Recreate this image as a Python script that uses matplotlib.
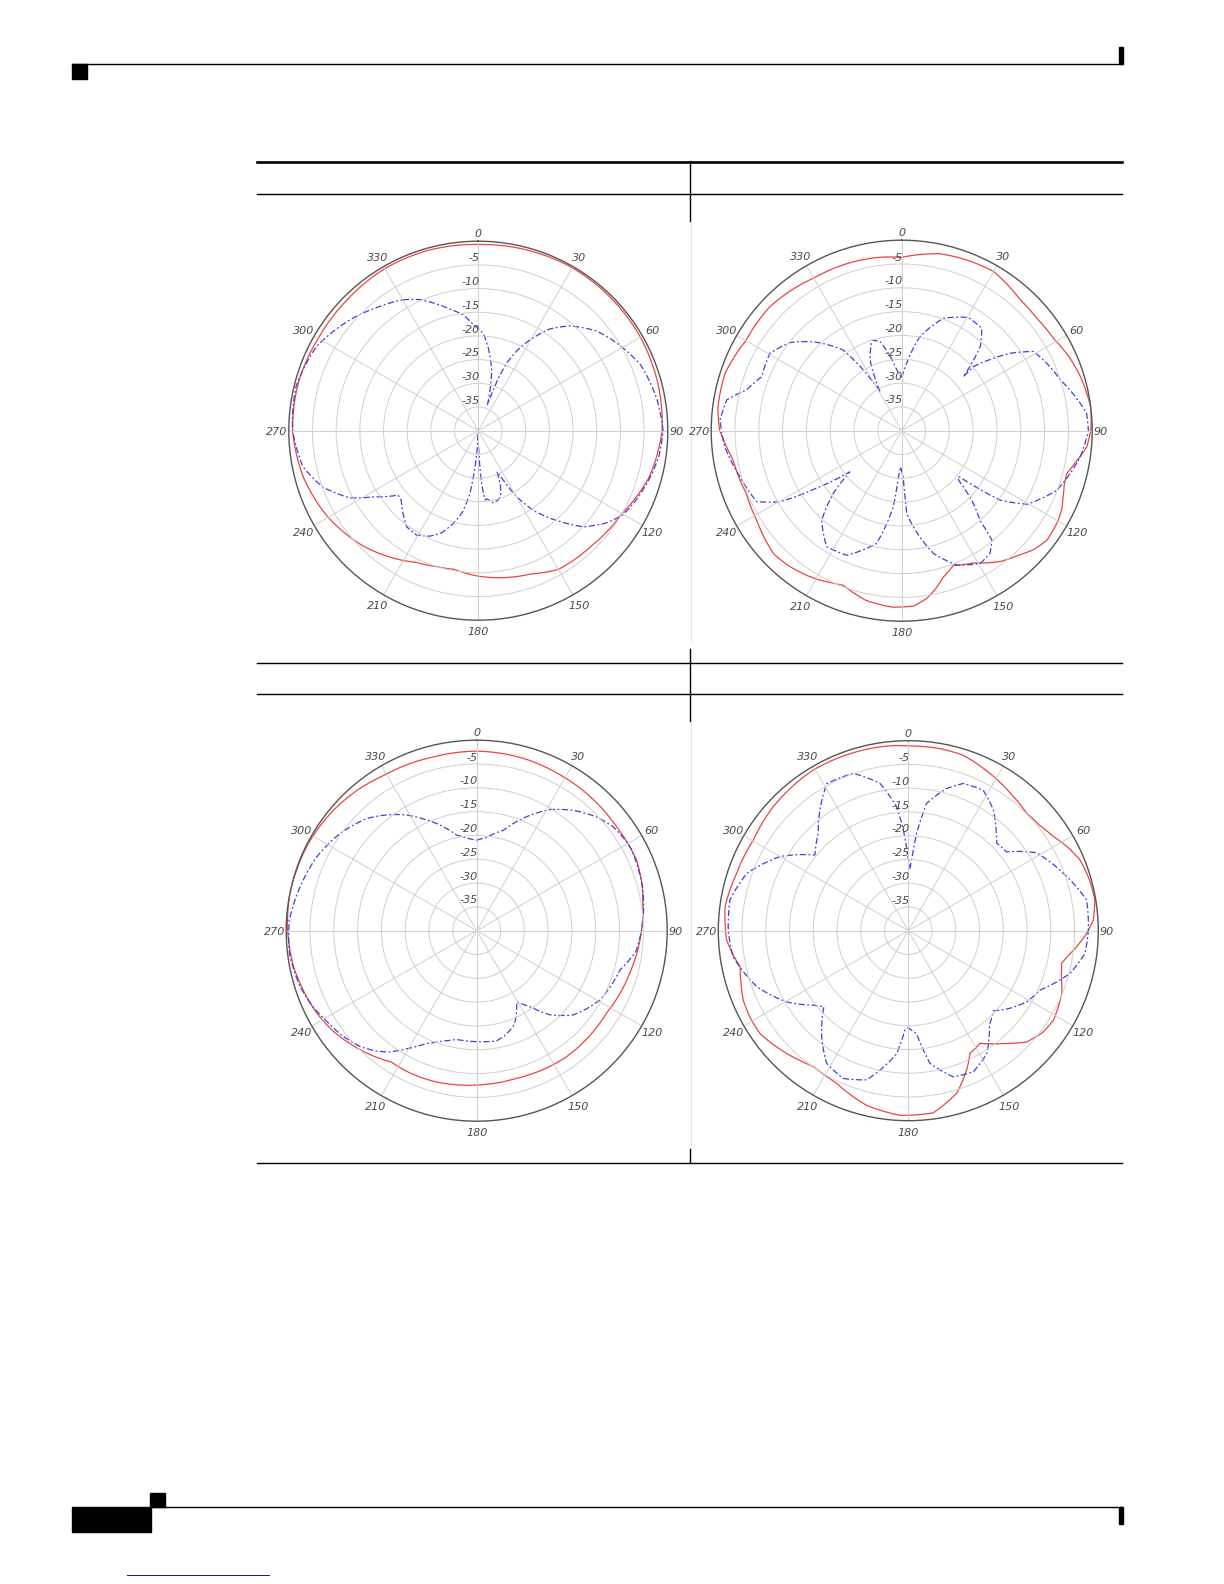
import numpy as np
import matplotlib
matplotlib.use("Agg")
import matplotlib.pyplot as plt
from matplotlib.patches import Rectangle, PathPatch
from matplotlib.path import Path

W, H = 1224, 1584

# ---- antenna patterns, (angle deg, level dB) ----
p1_red_ang = [0, 15, 30, 45, 60, 75, 90, 105, 120, 135, 150, 160, 170, 180, 185, 190, 197, 205, 212,
              225, 240, 255, 270, 285, 300, 315, 330, 345]
p1_red_db = [-0.7, -0.5, -0.3, -0.4, -0.5, -0.8, -1.2, -2.6, -5.0, -5.9, -6.2, -7.8, -8.5, -9.3, -9.8,
             -10.3, -10.0, -9.3, -8.0, -5.6, -3.4, -1.8, -0.8, -0.7, -1.0, -0.9, -0.5, -0.5]

p1_blue_ang = [330, 336, 343, 348, 352.6, 357, 362.9, 367, 372.4, 376, 379.3, 381, 382.8, 386, 389.7,
               395, 401.2, 410, 417.7, 428, 440.2, 450, 458, 465, 473, 480.3, 486, 492.4, 498, 505.3,
               510, 513.1, 515.5, 518, 521, 523.9, 528, 532.4, 534.5, 536.4, 539, 541, 544, 547.6, 551,
               555.1, 560, 564.7, 570.6, 576.7, 582, 587.9, 591.2, 597.8, 602.4, 610, 618.4, 630, 643.6,
               657.5, 670.8, 680, 690]
p1_blue_db = [-8.1, -9.7, -12.3, -14.0, -15.3, -17.5, -19.4, -22.5, -26.9, -31.0, -34.2, -28.0, -24.5,
              -21.0, -17.9, -13.8, -10.6, -7.3, -5.4, -3.0, -1.7, -1.0, -1.5, -2.4, -3.5, -4.7, -6.8,
              -9.9, -14.2, -19.5, -24.0, -28.3, -30.5, -27.5, -25.5, -24.8, -24.4, -25.5, -25.3, -28.9,
              -37.0, -40.0, -35.2, -26.6, -22.5, -19.7, -17.0, -15.5, -14.4, -14.7, -16.3, -18.1, -18.3,
              -13.8, -9.4, -5.1, -2.2, -0.8, -0.4, -1.5, -4.2, -6.2, -8.1]

p2_red_ang = [0, 12, 22, 30, 42, 50, 58.7, 66, 73, 83, 90, 95, 100, 104.5, 108, 111, 116, 120, 127, 132,
              137, 143, 151.5, 159, 164, 168, 171.5, 176, 183, 192, 200.7, 205, 209, 213, 220, 226, 232,
              238, 248, 260, 266, 270, 277, 288, 300, 313, 322, 330, 344, 353]
p2_red_db = [-3.6, -2.0, -1.6, -1.4, -2.9, -3.1, -2.7, -1.6, -0.8, 0.0, -0.3, -1.0, -2.8, -4.2, -4.1,
             -3.6, -2.6, -2.1, -1.8, -2.7, -4.2, -5.6, -8.4, -9.7, -8.1, -6.0, -4.4, -3.1, -2.9, -3.6,
             -5.3, -4.8, -4.2, -3.7, -3.0, -2.7, -3.4, -4.2, -4.8, -4.1, -2.8, -1.8, -1.1, -1.0, -2.2,
             -2.0, -2.5, -3.0, -3.1, -3.3]

p2_blue_ang = [331, 335.9, 341.7, 346.3, 355.3, 360, 364.2, 371, 380.4, 390.5, 398, 403, 408.8, 408.2,
               414.5, 419, 425.1, 432.3, 444.6, 450, 458.3, 464.2, 471, 480.4, 485.2, 488.7, 491, 495,
               498.8, 500.5, 504.2, 509.4, 517.7, 525.5, 533.1, 536.5, 538, 541.6, 544.1, 546.3, 552.5,
               563.9, 572.9, 581.8, 587.5, 591.6, 595.6, 599.7, 603.9, 614.1, 624.8, 633.4, 640, 644.7,
               651.1, 660.4, 668.2, 675.2, 684.1, 687.7, 691]
p2_blue_db = [-30.6, -23.7, -20.0, -20.7, -27.2, -29.0, -25.8, -19.9, -14.8, -12.4, -12.7, -15.8, -22.8,
              -19.8, -12.0, -7.7, -6.4, -5.0, -1.0, -0.8, -2.1, -3.5, -5.1, -9.5, -14.7, -24.7, -24.2,
              -19.0, -15.1, -10.2, -8.3, -7.6, -9.5, -13.4, -19.7, -22.6, -30.3, -32.4, -30.3, -24.0,
              -15.8, -11.4, -11.0, -14.8, -20.5, -26.1, -19.2, -10.4, -6.1, -4.7, -2.7, -1.8, -2.7, -6.3,
              -8.5, -7.9, -10.1, -13.7, -19.1, -24.9, -30.6]

p3_red_ang = [0, 15, 29, 40, 53, 66, 75, 80, 90, 105, 122, 135, 145, 165, 180, 196, 205, 213, 220, 228,
              235, 243, 259, 270, 281, 298, 310, 320, 329, 346]
p3_red_db = [-2.3, -2.5, -2.9, -3.1, -3.4, -3.3, -4.0, -4.6, -5.4, -6.6, -7.7, -7.6, -7.5, -7.9, -7.6,
             -7.1, -7.0, -7.1, -5.8, -4.4, -3.2, -2.2, -0.8, -0.3, 0.0, -0.2, -0.7, -1.3, -2.0, -2.4]

p3_blue_ang = [0, 6.1, 14.8, 24.8, 31.1, 38.7, 46.5, 52.7, 58, 62, 68, 75.2, 82, 90, 97.5, 105.3, 112,
               119.3, 125, 131.1, 139, 144.9, 150.6, 156.4, 159.1, 165, 169.7, 180, 190.4, 197, 204, 210,
               215.6, 220, 225.2, 232, 238.8, 245, 252.4, 263.1, 273.3, 284, 294.8, 305.5, 315.6, 323.3,
               328.8, 334, 339.6, 348.2, 355]
p3_blue_db = [-21.0, -20.3, -18.2, -13.3, -10.3, -7.6, -5.3, -4.0, -3.5, -3.3, -3.6, -4.0, -4.6, -5.4,
              -6.3, -8.8, -9.5, -10.3, -11.6, -13.1, -16.6, -20.5, -22.9, -19.6, -18.5, -17.2, -16.5,
              -16.7, -16.8, -15.8, -14.1, -11.5, -8.7, -7.0, -5.5, -4.2, -3.2, -2.1, -1.1, -0.4, -0.6,
              -1.8, -3.0, -4.8, -7.0, -9.6, -11.6, -13.8, -16.0, -19.5, -20.6]

p4_red_ang = [0, 10, 17.4, 28.9, 37, 45.2, 51, 57, 62, 67.6, 74, 80.7, 86.7, 91, 95.4, 99, 102, 106,
              112.2, 121.6, 127, 133.2, 140, 147.5, 153.3, 157.3, 163.4, 172.2, 182.6, 193.4, 200, 205.1,
              210, 214.9, 220, 224.8, 235.3, 241, 247.2, 252, 257.9, 262, 267.1, 277.5, 288.5, 300.3,
              312.6, 329.4, 346, 355.4]
p4_red_db = [-1.1, -1.1, -1.3, -2.9, -4.0, -4.9, -4.6, -3.6, -2.2, -0.9, -0.4, -0.2, -1.0, -2.5, -4.4,
             -6.0, -7.0, -6.5, -5.1, -4.1, -4.5, -5.8, -9.0, -11.9, -11.1, -8.2, -4.3, -1.3, -1.1, -2.2,
             -3.5, -4.5, -4.9, -5.1, -4.4, -3.6, -2.0, -2.0, -2.3, -3.0, -3.8, -2.8, -1.7, -1.1, -1.9,
             -2.2, -1.4, -0.7, -0.8, -0.9]

p4_blue_ang = [357.2, 359.5, 361.5, 363, 364.9, 368.2, 375.1, 380.5, 388.1, 395.2, 400.1, 405.3, 411.2,
               418.7, 429.7, 440.2, 450, 457.3, 464.8, 474.3, 481, 487.4, 493.3, 499.3, 507.4, 515.2,
               522.9, 530.7, 535.4, 538, 540, 542, 545.4, 555.6, 563.8, 571.6, 579.3, 588, 591.9, 599.7,
               609.7, 621.5, 630, 639.8, 649.5, 660, 669, 677.2, 683.8, 691, 700.7, 709.1, 714.6, 717.2]
p4_blue_db = [-18.8, -24.0, -27.0, -24.5, -19.4, -12.9, -9.0, -6.9, -6.5, -8.9, -11.4, -13.8, -13.5,
              -8.4, -5.2, -1.9, -2.1, -2.5, -4.8, -9.6, -10.9, -13.1, -15.4, -13.8, -9.3, -7.3, -7.8,
              -11.7, -18.3, -19.0, -19.6, -19.0, -14.0, -7.4, -6.0, -7.2, -11.2, -16.1, -14.6, -10.3,
              -6.0, -2.7, -2.1, -1.9, -3.9, -8.8, -14.7, -12.1, -8.5, -4.6, -4.9, -8.4, -13.8, -18.8]

# centre x, centre y, radius of each polar chart on the page (pixels)
panels = [
    (478.3, 430.7, 189.5, p1_red_ang, p1_red_db, p1_blue_ang, p1_blue_db),
    (901.7, 430.7, 190.5, p2_red_ang, p2_red_db, p2_blue_ang, p2_blue_db),
    (476.7, 930.7, 190.5, p3_red_ang, p3_red_db, p3_blue_ang, p3_blue_db),
    (908.3, 930.7, 190.0, p4_red_ang, p4_red_db, p4_blue_ang, p4_blue_db),
]

angle_ticks = list(range(0, 360, 30))
ring_ticks = [-35, -30, -25, -20, -15, -10, -5]
r_min, r_max = -40, 0


def draw_pattern(ax, ang, db, **kw):
    # closed trace; segments follow the polar grid (arcs) instead of chords
    a = list(ang)
    v = list(db)
    if a[-1] < a[0] + 359.5:
        a.append(a[0] + 360)
        v.append(v[0])
    path = Path(np.column_stack([np.radians(a), v]), _interpolation_steps=24)
    ax.add_patch(PathPatch(path, fill=False, **kw))


fig = plt.figure(figsize=(W / 100, H / 100), dpi=100)
fig.patch.set_facecolor("white")

# page furniture
page = fig.add_axes([0, 0, 1, 1])
page.set_xlim(0, W)
page.set_ylim(H, 0)
page.axis("off")
px = 0.72  # one pixel in points

page.plot([72, 1122], [64, 64], color="black", lw=1.4 * px)
page.add_patch(Rectangle((72, 64), 15, 15, color="black"))
page.add_patch(Rectangle((1119, 47), 4, 17, color="black"))

page.plot([257, 1122], [161.5, 161.5], color="black", lw=2.6 * px)
page.plot([257, 1122], [193.5, 193.5], color="black", lw=1.4 * px)
page.plot([690, 690], [161, 221], color="black", lw=1.4 * px)
page.plot([691, 691], [221, 641], color="#e6e6e6", lw=1 * px)

page.plot([257, 1122], [662.5, 662.5], color="black", lw=1.4 * px)
page.plot([257, 1122], [694, 694], color="black", lw=1.4 * px)
page.plot([690, 690], [649, 721], color="black", lw=1.4 * px)
page.plot([691, 691], [721, 1149], color="#e6e6e6", lw=1 * px)

page.plot([257, 1122], [1162.5, 1162.5], color="black", lw=1.4 * px)
page.plot([690, 690], [1149, 1162], color="black", lw=1.4 * px)

page.plot([150, 1122], [1507, 1507], color="black", lw=1.4 * px)
page.add_patch(Rectangle((72, 1507), 79, 25, color="black"))
page.add_patch(Rectangle((150, 1493), 15, 14, color="black"))
page.add_patch(Rectangle((1119, 1507), 4, 17, color="black"))
page.plot([127, 269], [1575, 1575], color="#1c1c9c", lw=1 * px)

lab_font = dict(fontsize=8, style="italic", color="#4a4a4a", family="DejaVu Sans")
lab_pos = {0: 1.045, 90: 1.045, 180: 1.055}

for cx, cy, R, red_a, red_v, blue_a, blue_v in panels:
    ax = fig.add_axes([(cx - R) / W, 1 - (cy + R) / H, 2 * R / W, 2 * R / H], projection="polar")
    ax.set_theta_zero_location("N")
    ax.set_theta_direction(-1)
    ax.set_ylim(r_min, r_max)
    ax.set_xticks(np.radians(angle_ticks))
    ax.set_xticklabels([])
    ax.set_yticks(ring_ticks)
    ax.set_yticklabels([])
    ax.grid(True, color="#cfcfcf", lw=0.7)
    ax.spines["polar"].set_color("#555555")
    ax.spines["polar"].set_linewidth(1.0)
    ax.tick_params(length=0)

    for a in angle_ticks:
        f = lab_pos.get(a, 1.062)
        ax.annotate(str(a), xy=(np.radians(a), r_min + (r_max - r_min) * f), xytext=(0, -1),
                    textcoords="offset points", ha="center", va="center",
                    annotation_clip=False, **lab_font)
    for v in ring_ticks:
        ax.annotate(str(v), xy=(0, v), xytext=(1, 1), textcoords="offset points",
                    ha="right", va="bottom", **lab_font)

    draw_pattern(ax, red_a, red_v, edgecolor="#e84545", lw=0.9)
    draw_pattern(ax, blue_a, blue_v, edgecolor="#4040d8", lw=0.9, linestyle=(0, (5, 2, 1.5, 2)))

fig.savefig("out.png", dpi=100, facecolor="white")
